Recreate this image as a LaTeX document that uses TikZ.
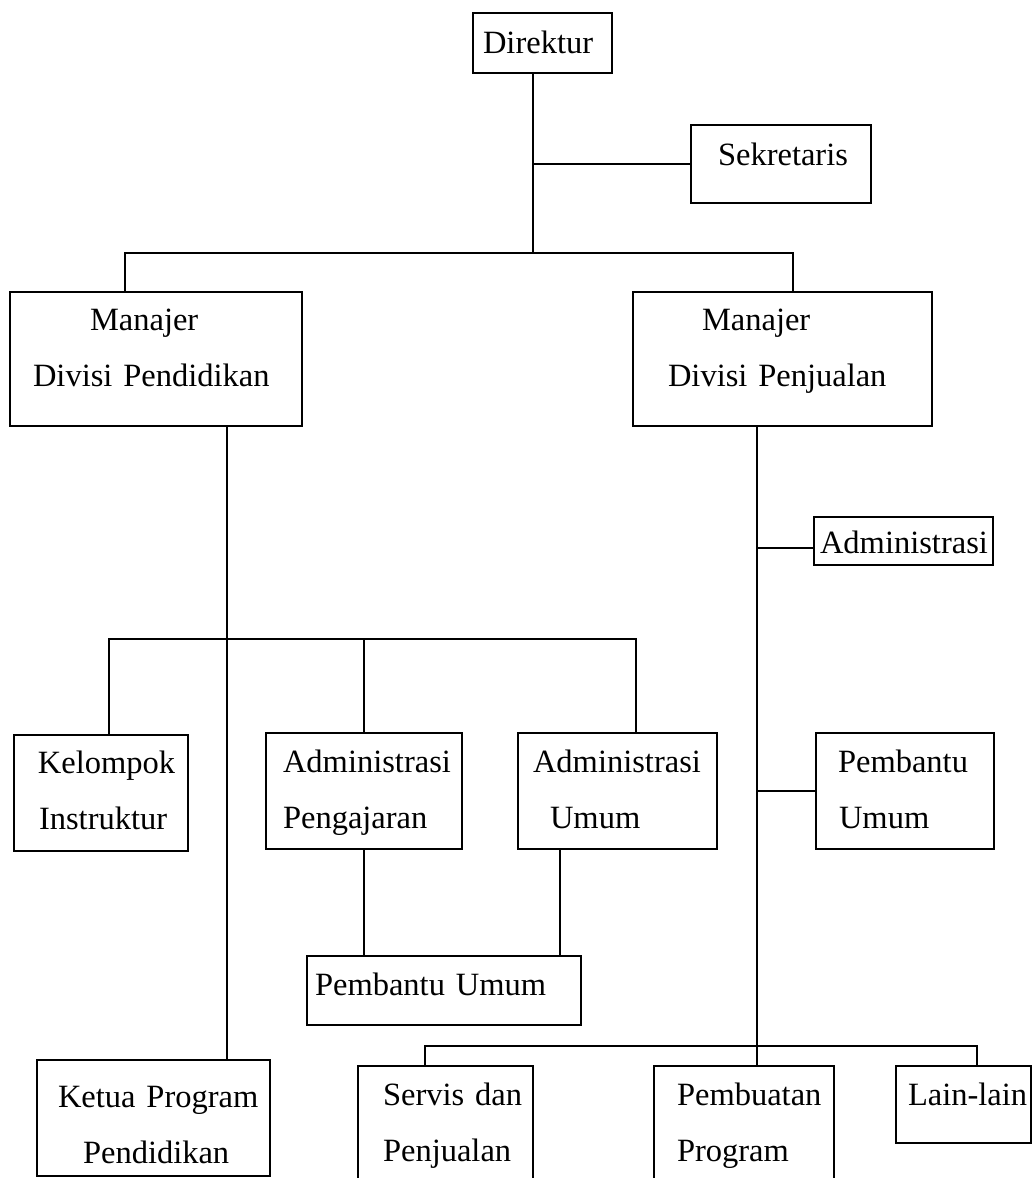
\documentclass[tikz,border=0pt]{standalone}
\usepackage{fontspec}
\usepackage{tikz}
\setmainfont{Liberation Serif}

\tikzset{
    unit/.style={draw, line width=2pt, inner xsep=0pt, inner ysep=0pt, align=left,
        font=\fontsize{32.5}{56}\selectfont},
    link/.style={line width=2pt}
}

\begin{document}
\begin{tikzpicture}[x=1pt, y=-1pt]
        \useasboundingbox (0,0) rectangle (1031,1178);

        \node[unit, text width=139pt, text height=40pt, text depth=20pt] (direktur) at (542.5,43) {\hspace*{10pt}Direktur};
        \node[unit, text width=180pt, text height=40pt, text depth=38pt] (sekretaris) at (781,164) {\hspace*{27pt}Sekretaris};

        \node[unit, text width=292pt, text height=38pt, text depth=96pt] (mgrdik) at (156,359) {\hspace*{80pt}Manajer\\\hspace*{23pt}Divisi Pendidikan};
        \node[unit, text width=299pt, text height=38pt, text depth=96pt] (mgrjual) at (782.5,359) {\hspace*{69pt}Manajer\\\hspace*{35pt}Divisi Penjualan};

        \node[unit, text width=179pt, text height=36pt, text depth=12pt] (admjual) at (903.5,541) {\hspace*{6pt}Administrasi};

        \node[unit, text width=174pt, text height=38pt, text depth=78pt] (kelompok) at (101,793) {\hspace*{24pt}Kelompok\\\hspace*{25pt}Instruktur};
        \node[unit, text width=196pt, text height=39pt, text depth=77pt] (admajar) at (364,791) {\hspace*{17pt}Administrasi\\\hspace*{17pt}Pengajaran};
        \node[unit, text width=199pt, text height=39pt, text depth=77pt] (admumum) at (617.5,791) {\hspace*{15pt}Administrasi\\\hspace*{32pt}Umum};
        \node[unit, text width=178pt, text height=39pt, text depth=77pt] (pbkanan) at (905,791) {\hspace*{22pt}Pembantu\\\hspace*{23pt}Umum};

        \node[unit, text width=274pt, text height=39pt, text depth=30pt] (pbtengah) at (444,990.5) {\hspace*{8pt}Pembantu Umum};

        \node[unit, text width=233pt, text height=47pt, text depth=69pt] (ketua) at (153.5,1118) {\hspace*{21pt}Ketua Program\\\hspace*{46pt}Pendidikan};
        \node[unit, text width=175pt, text height=39pt, text depth=83pt] (servis) at (445.5,1127) {\hspace*{25pt}Servis dan\\\hspace*{25pt}Penjualan};
        \node[unit, text width=180pt, text height=39pt, text depth=83pt] (buat) at (744,1127) {\hspace*{23pt}Pembuatan\\\hspace*{23pt}Program};
        \node[unit, text width=135pt, text height=39pt, text depth=38pt] (lain) at (963.5,1104.5) {\hspace*{12pt}Lain-lain};

        \coordinate (jdir) at (533,253);
        \coordinate (jdik) at (227,639);
        \coordinate (jjual) at (757,1046);

        \draw[link] (direktur.south -| jdir) -- (jdir);
        \draw[link] (jdir |- sekretaris.west) -- (sekretaris.west);
        \draw[link] ([xshift=-31pt]mgrdik.north) |- (jdir) -| ([xshift=10.5pt]mgrjual.north);

        \draw[link] (mgrdik.south -| jdik) -- (ketua.north -| jdik);
        \draw[link] ([xshift=8pt]kelompok.north) |- (jdik) -| ([xshift=18.5pt]admumum.north);
        \draw[link] (admajar.north |- jdik) -- (admajar.north);
        \draw[link] (admajar.south) -- (admajar.south |- pbtengah.north);
        \draw[link] ([xshift=-57.5pt]admumum.south) -- ([xshift=-57.5pt]admumum.south |- pbtengah.north);

        \draw[link] (mgrjual.south -| jjual) -- (jjual);
        \draw[link] ([yshift=-7pt]admjual.west -| jjual) -- ([yshift=-7pt]admjual.west);
        \draw[link] (jjual |- pbkanan.west) -- (pbkanan.west);
        \draw[link] ([xshift=-20.5pt]servis.north) |- (jjual) -| ([xshift=13.5pt]lain.north);
        \draw[link] (jjual) -- (buat.north -| jjual);
    \end{tikzpicture}
\end{document}
